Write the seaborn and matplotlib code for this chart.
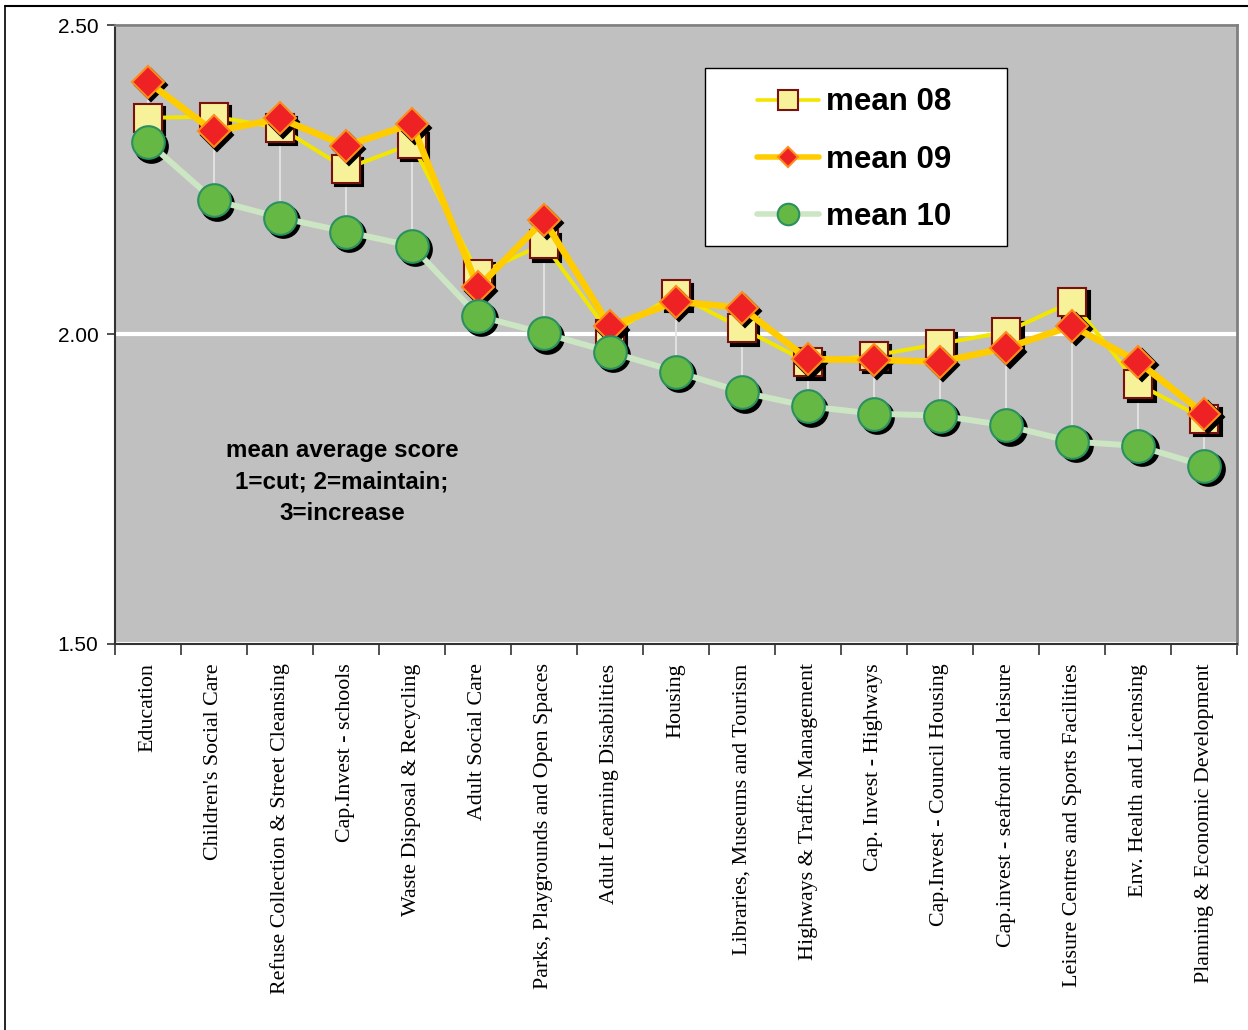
import numpy as np
import pandas as pd
import matplotlib
matplotlib.use("Agg")
import matplotlib.pyplot as plt
import matplotlib.transforms as mtransforms
from matplotlib.lines import Line2D
from matplotlib.patches import Rectangle
import seaborn as sns

# ---------------- data ----------------
categories = [
    "Education",
    "Children's Social Care",
    "Refuse Collection & Street Cleansing",
    "Cap.Invest - schools",
    "Waste Disposal & Recycling",
    "Adult Social Care",
    "Parks, Playgrounds and Open Spaces",
    "Adult Learning Disabilities",
    "Housing",
    "Libraries, Museums and Tourism",
    "Highways & Traffic Management",
    "Cap. Invest - Highways",
    "Cap.Invest - Council Housing",
    "Cap.invest - seafront and leisure",
    "Leisure Centres and Sports Facilities",
    "Env. Health and Licensing",
    "Planning & Economic Development",
]
mean_08 = [2.350, 2.352, 2.334, 2.268, 2.308, 2.098, 2.146, 2.001, 2.065,
           2.010, 1.955, 1.966, 1.985, 2.004, 2.053, 1.920, 1.864]
mean_09 = [2.408, 2.328, 2.349, 2.305, 2.340, 2.076, 2.185, 2.013, 2.053,
           2.043, 1.960, 1.959, 1.956, 1.978, 2.014, 1.956, 1.872]
mean_10 = [2.311, 2.217, 2.189, 2.166, 2.143, 2.030, 2.002, 1.972, 1.940,
           1.907, 1.884, 1.872, 1.869, 1.853, 1.827, 1.820, 1.788]
series_names = ["mean 08", "mean 09", "mean 10"]
y_ticks = [1.50, 2.00, 2.50]
y_tick_labels = ["1.50", "2.00", "2.50"]
note_text = "mean average score\n1=cut; 2=maintain;\n3=increase"

# ---------------- style ----------------
sns.set_style("white")
plt.rcParams["font.family"] = ["Liberation Sans", "DejaVu Sans"]
plt.rcParams["text.color"] = "black"
plt.rcParams["xtick.color"] = "black"
plt.rcParams["ytick.color"] = "black"

fig = plt.figure(figsize=(12.48, 10.30), dpi=100)
ax = fig.add_axes([0.0921, 0.3748, 0.8991, 0.6009])
ax.set_facecolor("#C0C0C0")

pos = np.arange(len(categories))
df = pd.DataFrame({"pos": pos, "category": categories,
                   "mean 08": mean_08, "mean 09": mean_09, "mean 10": mean_10})

# high-low drop lines
hi = df[series_names].max(axis=1)
lo = df[series_names].min(axis=1)
ax.vlines(df["pos"], lo, hi, colors="#E4E4E4", linewidth=1.3, zorder=1.5)

styles = {
    "mean 08": dict(color="#F2E600", linewidth=2.9, marker="s", markersize=20.5,
                    markerfacecolor="#F7F29A", markeredgecolor="#7A1010",
                    markeredgewidth=1.5),
    "mean 09": dict(color="#FFCC00", linewidth=4.8, marker="D", markersize=16.5,
                    markerfacecolor="#EE2124", markeredgecolor="#FF8C1A",
                    markeredgewidth=1.5),
    "mean 10": dict(color="#CCE6C4", linewidth=4.3, marker="o", markersize=23.5,
                    markerfacecolor="#66B845", markeredgecolor="#2A9060",
                    markeredgewidth=1.5),
}

shadow = mtransforms.offset_copy(ax.transData, fig=fig, x=3.5, y=-3.5, units="dots")

z = 3.0
for name in series_names:
    st = styles[name]
    ax.plot(df["pos"], df[name], linestyle="none", marker=st["marker"],
            markersize=st["markersize"], markerfacecolor="black",
            markeredgecolor="black", markeredgewidth=st["markeredgewidth"],
            transform=shadow, zorder=z)
    sns.lineplot(data=df, x="pos", y=name, ax=ax, legend=False, sort=False,
                 errorbar=None, zorder=z + 0.1, **st)
    z += 0.2

# grid line at 2.00
ax.set_axisbelow(True)
ax.yaxis.grid(True, color="white", linewidth=3)
ax.xaxis.grid(False)

# axes
ax.set_xlim(-0.5, len(categories) - 0.5)
ax.set_ylim(1.5, 2.5)
ax.set_xlabel("")
ax.set_ylabel("")
ax.set_xticks(np.arange(-0.5, len(categories), 1.0))
ax.set_xticklabels([])
ax.set_xticks(pos, minor=True)
ax.set_xticklabels(categories, minor=True, rotation=90, ha="center", va="top",
                   fontfamily="Liberation Serif", fontsize=15.8, color="black")
ax.tick_params(axis="x", which="major", bottom=True, length=8, width=1.2,
               direction="out", color="#333333")
ax.tick_params(axis="x", which="minor", bottom=True, length=0, pad=14)
ax.set_yticks(y_ticks)
ax.set_yticklabels(y_tick_labels, fontsize=15, color="black")
ax.tick_params(axis="y", left=True, length=6, width=1.2, direction="out",
               color="#333333", pad=6)

for s in ["left", "bottom"]:
    ax.spines[s].set_color("#333333")
    ax.spines[s].set_linewidth(1.5)
for s in ["top", "right"]:
    ax.spines[s].set_color("#808080")
    ax.spines[s].set_linewidth(2)

# annotation
ax.text(0.2023, 0.2618, note_text, transform=ax.transAxes, ha="center",
        va="center", multialignment="center", fontsize=17.4, color="black",
        fontweight="bold", linespacing=1.47, zorder=6)

# legend
ax.add_patch(Rectangle((0.526, 0.643), 0.269, 0.287, transform=ax.transAxes,
                       facecolor="white", edgecolor="black", linewidth=1.0,
                       zorder=6))
handles = [
    Line2D([], [], color=styles["mean 08"]["color"], linewidth=2.6, marker="s",
           markersize=14.5, markerfacecolor="#F7F29A", markeredgecolor="#7A1010",
           markeredgewidth=1.5),
    Line2D([], [], color=styles["mean 09"]["color"], linewidth=4.0, marker="D",
           markersize=10.5, markerfacecolor="#EE2124", markeredgecolor="#FF8C1A",
           markeredgewidth=1.5),
    Line2D([], [], color=styles["mean 10"]["color"], linewidth=4.0, marker="o",
           markersize=15.5, markerfacecolor="#66B845", markeredgecolor="#2A9060",
           markeredgewidth=1.5),
]
leg = ax.legend(handles, series_names, loc="center",
                bbox_to_anchor=(0.6585, 0.7825), frameon=False,
                prop=dict(family="Liberation Sans", weight="bold", size=22.5),
                handlelength=2.0, handletextpad=0.2, labelspacing=0.87)
for t in leg.get_texts():
    t.set_color("black")
leg.set_zorder(7)

# figure border lines
fig.add_artist(Line2D([0.004, 1.0], [0.9942, 0.9942], transform=fig.transFigure,
                      color="black", linewidth=1.5))
fig.add_artist(Line2D([0.004, 0.004], [0.0, 0.9942], transform=fig.transFigure,
                      color="black", linewidth=1.2))

fig.savefig("out.png", dpi=100, facecolor="white")
